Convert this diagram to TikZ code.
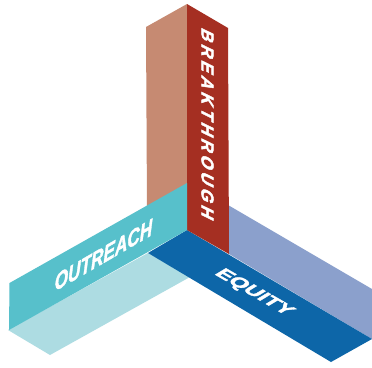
\documentclass[tikz,border=0pt]{standalone}
\usepackage{fontspec}
\setmainfont{Liberation Sans}
\definecolor{redface}{HTML}{A52F22}
\definecolor{redpale}{HTML}{C68A72}
\definecolor{tealface}{HTML}{57C0CB}
\definecolor{tealpale}{HTML}{ADDCE2}
\definecolor{blueface}{HTML}{0D66A8}
\definecolor{bluepale}{HTML}{8BA0CC}
\tikzset{
  face/.style={fill=#1,draw=none},
  lbl/.style={text=white,inner sep=0pt,font=\fontsize{20}{20}\selectfont\bfseries},
}
\begin{document}
\begin{tikzpicture}[x=1pt,y=-1pt]
\useasboundingbox (0,0) rectangle (372,367);
\fill[white] (0,0) rectangle (372,367);
% pale faces
\fill[face=redpale] (187,4) -- (146,27) -- (147,210) -- (187,210) -- cycle;
\fill[face=bluepale] (228,205) -- (372,289) -- (372,339) -- (229,254) -- cycle;
\fill[face=tealpale] (8,330) -- (50,355) -- (190,277) -- (148,253) -- cycle;
% strong faces
\fill[face=blueface] (187,230) -- (372,339) -- (331,362) -- (148,253) -- cycle;
\fill[face=redface] (187,4) -- (228,28) -- (229,254) -- (187,230) -- cycle;
\fill[face=tealface] (187,183) -- (187,230) -- (9,330) -- (9.5,283) -- cycle;
% labels
\node[lbl,cm={0,-0.84,0.86,-0.42,(0,0)}] (breakthrough) at (207.5,124.5)
  {\addfontfeature{LetterSpace=24,FakeBold=2.6}\fontsize{20}{20}\selectfont BREAKTHROUGH};
\node[lbl,cm={0.86,0.5,0,1.18,(0,0)}] (outreach) at (103.5,255) {\itshape\addfontfeature{FakeBold=2}OUTREACH};
\node[lbl,cm={0.97,-0.56,0.78,0.47,(0,0)}] (equity) at (254,292.5) {\addfontfeature{FakeBold=2}EQUITY};
\end{tikzpicture}
\end{document}
